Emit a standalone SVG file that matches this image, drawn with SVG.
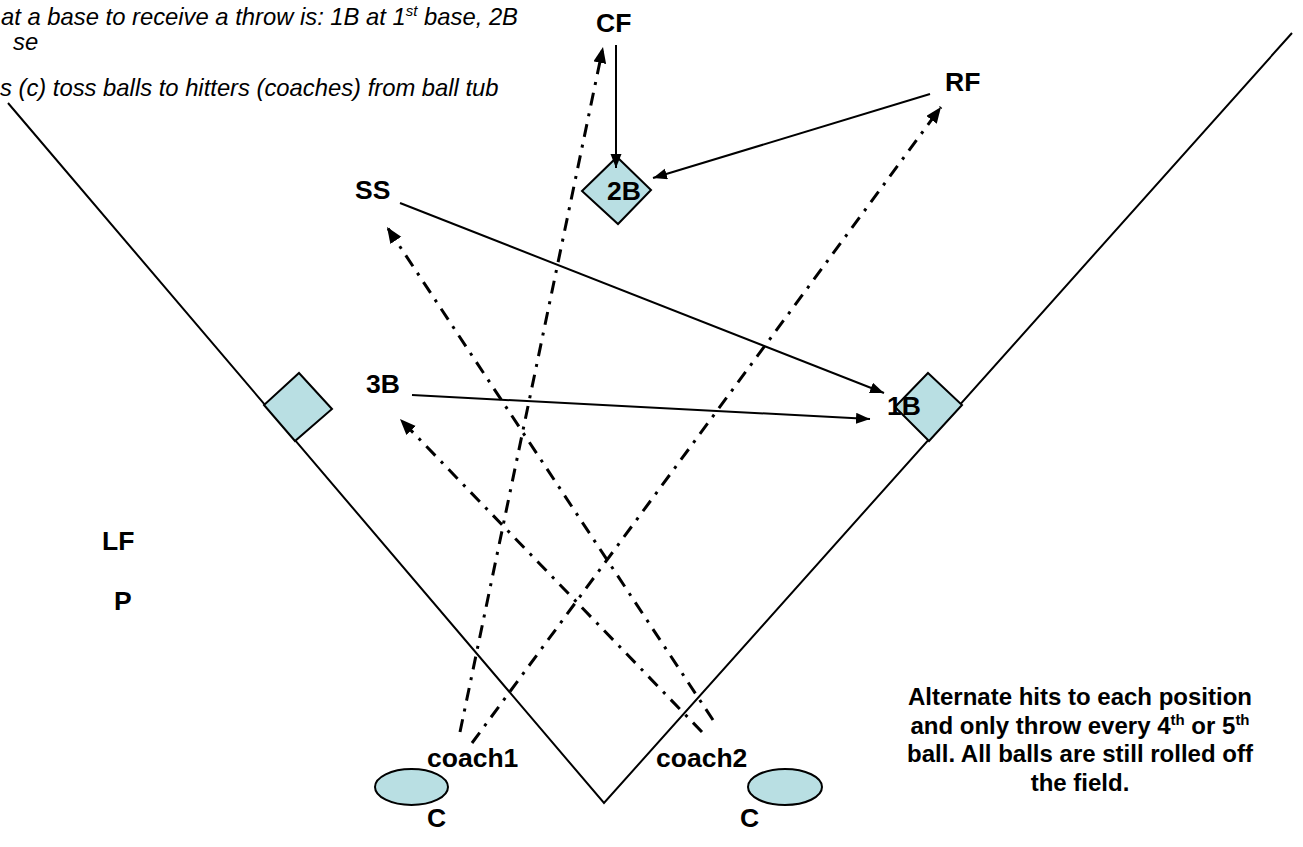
<svg xmlns="http://www.w3.org/2000/svg" width="1303" height="847" viewBox="0 0 1303 847">
  <style>
    .bg { fill: #ffffff; }
    .foul { stroke: #000; stroke-width: 2; fill: none; }
    .base { fill: #b9dfe3; stroke: #000; stroke-width: 2; }
    .throw { stroke: #000; stroke-width: 2; fill: none; marker-end: url(#head); }
    .hit { stroke: #000; stroke-width: 3; fill: none; stroke-dasharray: 13 8 3 8; marker-end: url(#headHit); }
    .lbl { font-family: "Liberation Sans", Arial, sans-serif; font-weight: bold; font-size: 26.5px; fill: #000; }
    .note { font-family: "Liberation Sans", Arial, sans-serif; font-weight: bold; font-size: 24px; fill: #000; text-anchor: middle; }
    .info { font-family: "Liberation Sans", Arial, sans-serif; font-style: italic; font-size: 23.8px; fill: #000; }
    .sup { font-size: 15px; }
  </style>
  <defs>
    <marker id="head" markerUnits="userSpaceOnUse" markerWidth="16" markerHeight="12" refX="14" refY="5.5" orient="auto">
      <path d="M0,0 L14,5.5 L0,11 z" fill="#000"/>
    </marker>
    <marker id="headHit" markerUnits="userSpaceOnUse" markerWidth="18" markerHeight="14" refX="16" refY="6.5" orient="auto">
      <path d="M0,0 L16,6.5 L0,13 z" fill="#000"/>
    </marker>
  </defs>

  <rect class="bg" x="0" y="0" width="1303" height="847"/>

  <!-- instructions, top left -->
  <g id="instructions">
    <text class="info" x="1" y="25">at a base to receive a throw is: 1B at 1<tspan class="sup" dy="-9">st</tspan><tspan dy="9"> base, 2B</tspan></text>
    <text class="info" x="13" y="50">se</text>
    <text class="info" x="0" y="96">s (c) toss balls to hitters (coaches) from ball tub</text>
  </g>

  <!-- foul lines -->
  <g id="field">
    <polyline class="foul" points="8,103 604,803 1292,33"/>
  </g>

  <!-- bases -->
  <g id="third-base"><polygon class="base" points="299,373 332,409 295,441 264,405"/></g>
  <g id="first-base"><polygon class="base" points="928,373 962,405 929,441 895,407"/></g>
  <g id="second-base"><polygon class="base" points="617,157 651,190 618,224 582,191"/></g>

  <!-- coach ball tubs -->
  <g id="tub-left"><ellipse class="base" cx="411.5" cy="787" rx="36.5" ry="18"/></g>
  <g id="tub-right"><ellipse class="base" cx="785" cy="787" rx="37" ry="18"/></g>

  <!-- throws (solid) and hits (dash-dot) -->
  <g id="connectors">
    <path class="throw" d="M616,45 L616,168"/>
    <path class="throw" d="M930,94 L653,178"/>
    <path class="throw" d="M400,203 L884,393"/>
    <path class="throw" d="M412,395 L870,419"/>
    <path class="hit" d="M460,732 L603,47"/>
    <path class="hit" d="M472,743 L941,107"/>
    <path class="hit" d="M713,720 L387,227"/>
    <path class="hit" d="M702,732 L400,419"/>
  </g>

  <!-- player labels -->
  <g id="cf"><text class="lbl" x="596" y="32">CF</text></g>
  <g id="rf"><text class="lbl" x="945" y="91">RF</text></g>
  <g id="ss"><text class="lbl" x="355" y="199">SS</text></g>
  <g id="second"><text class="lbl" x="607" y="200">2B</text></g>
  <g id="third"><text class="lbl" x="366" y="393">3B</text></g>
  <g id="first"><text class="lbl" x="887" y="415">1B</text></g>
  <g id="lf"><text class="lbl" x="102" y="550">LF</text></g>
  <g id="pitcher"><text class="lbl" x="114" y="610">P</text></g>
  <g id="coach1"><text class="lbl" x="427" y="767">coach1</text></g>
  <g id="coach2"><text class="lbl" x="656" y="767">coach2</text></g>
  <g id="catcher-left"><text class="lbl" x="427" y="827">C</text></g>
  <g id="catcher-right"><text class="lbl" x="740" y="827">C</text></g>

  <!-- drill note -->
  <g id="note">
    <text class="note" x="1080" y="705">Alternate hits to each position</text>
    <text class="note" x="1080" y="733.5">and only throw every 4<tspan class="sup" dy="-9">th</tspan><tspan dy="9"> or 5</tspan><tspan class="sup" dy="-9">th</tspan></text>
    <text class="note" x="1080" y="762">ball. All balls are still rolled off</text>
    <text class="note" x="1080" y="790.5">the field.</text>
  </g>
</svg>
